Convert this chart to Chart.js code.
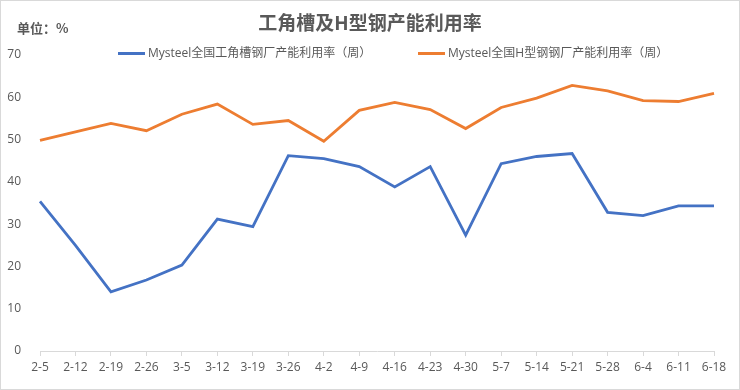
<!DOCTYPE html>
<html>
<head>
<meta charset="utf-8">
<script src="https://cdn.jsdelivr.net/npm/chart.js@4.4.1/dist/chart.umd.min.js"></script>
<style>
    body { margin: 0; background: #fff; }
    #wrap {
        position: relative; width: 740px; height: 390px; box-sizing: border-box;
        border: 1px solid #d9d9d9; color: #595959;
        font-family: 'Open Sans', 'Noto Sans CJK SC', sans-serif;
    }
    #box { position: absolute; left: 0; top: 0; width: 738px; height: 388px; }
    #titulo { position: absolute; left: 0; top: 9px; width: 738px; text-align: center; font: bold 19px/24px 'Noto Sans CJK SC', sans-serif; }
    #unit { position: absolute; left: 16px; top: 17px; font: bold 13px 'Noto Sans CJK SC', sans-serif; }
    .item { position: absolute; top: 44px; display: flex; align-items: center; font-size: 12px; line-height: 16px; white-space: nowrap; }
    .item i { display: inline-block; width: 27px; height: 3px; margin-right: 3px; }
</style>
</head>
<body>
<div id="wrap">
    <div id="box"><canvas id="grafico"></canvas></div>
    <div id="titulo">工角槽及H型钢产能利用率</div>
    <div id="unit">单位：%</div>
    <div id="legend"></div>
</div>
<script>
const categorias = ['2-5', '2-12', '2-19', '2-26', '3-5', '3-12', '3-19', '3-26', '4-2', '4-9',
    '4-16', '4-23', '4-30', '5-7', '5-14', '5-21', '5-28', '6-4', '6-11', '6-18'];
const serieNomes = ['Mysteel全国工角槽钢厂产能利用率（周）', 'Mysteel全国H型钢钢厂产能利用率（周）'];
const gongJiaoCao = [35.4, 25.0, 14.0, 16.8, 20.3, 31.2, 29.4, 46.2, 45.5, 43.6,
    38.8, 43.6, 27.4, 44.3, 46.0, 46.7, 32.8, 32.0, 34.3, 34.3];
const hXingGang = [49.8, 51.8, 53.8, 52.1, 56.0, 58.4, 53.6, 54.5, 49.6, 56.9,
    58.8, 57.1, 52.6, 57.6, 59.8, 62.8, 61.5, 59.2, 59.0, 60.9];
const yTicks = [0, 10, 20, 30, 40, 50, 60, 70];

const cores = ['#4472C4', '#ED7D31'];
const fonte = "'Open Sans', 'Noto Sans CJK SC', sans-serif";
const cinza = '#595959';

const ctx = document.getElementById('grafico').getContext('2d');

const chartConfig = {
    type: 'line',
    data: {
        labels: categorias,
        datasets: [gongJiaoCao, hXingGang].map((d, i) => ({
            label: serieNomes[i],
            data: d,
            borderColor: cores[i],
            backgroundColor: cores[i],
            borderWidth: 2.8,
            pointRadius: 0,
            tension: 0
        }))
    },
    options: {
        responsive: true,
        maintainAspectRatio: false,
        animation: false,
        layout: { padding: { top: 54, right: 25, bottom: 10.6, left: 0 } },
        plugins: {
            legend: { display: false },
            tooltip: { enabled: false },
            title: { display: false }
        },
        scales: {
            x: {
                offset: false,
                grid: { drawOnChartArea: false, drawTicks: true, tickLength: 5, color: '#d9d9d9' },
                border: { color: '#d9d9d9' },
                ticks: { color: cinza, padding: 4, maxRotation: 0, autoSkip: false, font: { family: fonte, size: 12 } }
            },
            y: {
                min: yTicks[0],
                max: yTicks[yTicks.length - 1],
                afterFit: s => { s.width = 39; },
                afterBuildTicks: s => { s.ticks = yTicks.map(v => ({ value: v })); },
                grid: { display: false },
                border: { display: false },
                ticks: { color: cinza, padding: 11, font: { family: fonte, size: 12 } }
            }
        }
    }
};

const myChart = new Chart(ctx, chartConfig);

// Legenda em HTML a partir dos datasets
const legendLefts = [117, 417];
const legend = document.getElementById('legend');
myChart.data.datasets.forEach((ds, i) => {
    const item = document.createElement('div');
    item.className = 'item';
    item.style.left = legendLefts[i] + 'px';
    item.innerHTML = '<i style="background:' + ds.borderColor + '"></i><span>' + ds.label + '</span>';
    legend.appendChild(item);
});
</script>
</body>
</html>
